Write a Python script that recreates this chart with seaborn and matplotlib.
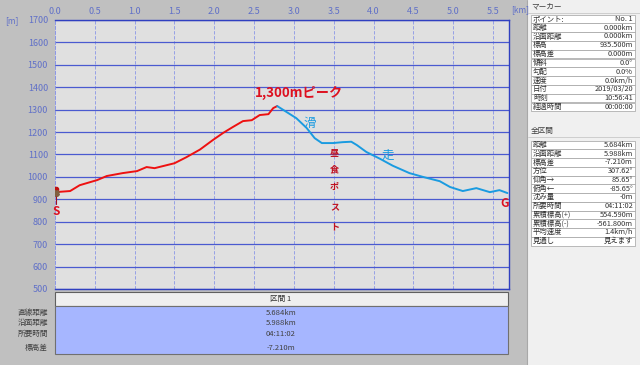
import numpy as np
import pandas as pd
import seaborn as sns
import matplotlib.pyplot as plt
from matplotlib.patches import Rectangle

# profile (km, m)
km_climb = [0.0, 0.19, 0.31, 0.53, 0.65, 0.85, 1.03, 1.15, 1.25, 1.5, 1.65, 1.82,
            1.98, 2.11, 2.23, 2.36, 2.47, 2.57, 2.68, 2.74, 2.79]
elev_climb = [932, 937, 963, 986, 1004, 1017, 1026, 1044, 1039, 1061, 1088, 1122,
              1164, 1196, 1222, 1249, 1253, 1276, 1280, 1307, 1316]
km_ski = [2.79, 2.91, 3.03, 3.16, 3.26, 3.35, 3.49, 3.61, 3.72, 3.79, 3.91, 4.08,
          4.24, 4.45, 4.62, 4.83, 4.96, 5.12, 5.29, 5.46, 5.58, 5.68]
elev_ski = [1316, 1289, 1262, 1218, 1173, 1151, 1151, 1155, 1157, 1142, 1111, 1081,
            1050, 1017, 1000, 981, 955, 937, 950, 932, 941, 928]

x_ticks = [0.0, 0.5, 1.0, 1.5, 2.0, 2.5, 3.0, 3.5, 4.0, 4.5, 5.0, 5.5]
y_ticks = [500, 600, 700, 800, 900, 1000, 1100, 1200, 1300, 1400, 1500, 1600, 1700]

section_labels = ['直線距離', '沿面距離', '所要時間', '標高差']
section_values = ['5.684km', '5.988km', '04:11:02', '-7.210m']

marker_labels = ['ポイント:', '距離', '沿面距離', '標高', '標高差', '傾斜', '勾配',
                 '速度', '日付', '時刻', '経過時間']
marker_values = ['No. 1', '0.000km', '0.000km', '935.500m', '0.000m', '0.0°', '0.0%',
                 '0.0km/h', '2019/03/20', '10:56:41', '00:00:00']
total_labels = ['距離', '沿面距離', '標高差', '方位', '仰角→', '俯角←', '沈み量',
                '所要時間', '累積標高(+)', '累積標高(-)', '平均速度', '見通し']
total_values = ['5.684km', '5.988km', '-7.210m', '307.62°', '85.65°', '-85.65°', '-0m',
                '04:11:02', '554.590m', '-561.800m', '1.4km/h', '見えます']

sns.set_style("white")
plt.rcParams['font.family'] = ['Noto Sans CJK JP', 'DejaVu Sans']

df = pd.concat([
	pd.DataFrame({"km": km_climb, "elev": elev_climb, "part": "climb"}),
	pd.DataFrame({"km": km_ski, "elev": elev_ski, "part": "ski"}),
])

W, H = 640, 365
fig = plt.figure(figsize=(6.4, 3.65), dpi=100, facecolor='#c0c0c0')

# background "window" drawn in pixel coords
bg = fig.add_axes([0, 0, 1, 1])
bg.set_xlim(0, W)
bg.set_ylim(H, 0)
bg.axis('off')

bg.text(12, 21, '[m]', fontsize=6, color='#6070c8', ha='center', va='center')
bg.text(520, 10, '[km]', fontsize=6, color='#6070c8', ha='center', va='center')

# section table under the chart
bg.add_patch(Rectangle((55, 292), 453, 14, facecolor='#efefef', edgecolor='#606060', lw=0.8))
bg.add_patch(Rectangle((55, 306), 453, 48, facecolor='#a6b6ff', edgecolor='#707070', lw=0.8))
bg.text(281, 299, '区間 1', fontsize=5.5, color='#333333', ha='center', va='center')
for lab, val, yy in zip(section_labels, section_values, [313, 323, 334, 348]):
	bg.text(48, yy, lab, fontsize=5.5, color='#404040', ha='right', va='center')
	bg.text(281, yy, val, fontsize=5.5, color='#404040', ha='center', va='center')

# right info panel
bg.add_patch(Rectangle((527, 0), 113, H, facecolor='#f0f0f0', edgecolor='none'))
bg.plot([527, 527], [0, H], color='#a8a8a8', lw=0.8)
bg.text(531, 6, 'マーカー', fontsize=5.5, color='#404040', ha='left', va='center')
bg.plot([528, 640], [12.5, 12.5], color='#c8c8c8', lw=0.6)
bg.text(531, 131, '全区間', fontsize=5.5, color='#404040', ha='left', va='center')
bg.plot([528, 640], [137, 137], color='#c8c8c8', lw=0.6)

def info_table(labels, values, top, step):
	for i, (lab, val) in enumerate(zip(labels, values)):
		y0 = top + i * step
		bg.add_patch(Rectangle((531, y0), 104, step, facecolor='white', edgecolor='#a0a0a0', lw=0.5))
		bg.text(533, y0 + step / 2, lab, fontsize=5.3, color='#303030', ha='left', va='center')
		bg.text(633, y0 + step / 2, val, fontsize=5.3, color='#303030', ha='right', va='center')

info_table(marker_labels, marker_values, 14.5, 8.8)
info_table(total_labels, total_values, 140.5, 8.75)

# elevation profile
ax = fig.add_axes([55 / W, 1 - 289 / H, 454 / W, 269 / H])
ax.set_facecolor('#e0e0e0')
sns.lineplot(data=df, x="km", y="elev", hue="part", palette=["#ee1111", "#1a9be0"],
             estimator=None, sort=False, linewidth=1.4, legend=False, ax=ax, zorder=5)

ax.set_xlim(0, 5.7)
ax.set_ylim(500, 1700)
ax.set_xticks(x_ticks)
ax.set_xticklabels(["%.1f" % t for t in x_ticks])
ax.set_yticks(y_ticks)
ax.xaxis.tick_top()
ax.tick_params(length=0, labelsize=6.5, labelcolor='#6070c8')
ax.tick_params(axis='x', pad=3)
ax.tick_params(axis='y', pad=5)
ax.set_xlabel("")
ax.set_ylabel("")
ax.grid(axis='y', color='#4a5ad0', lw=0.9, ls='-')
ax.grid(axis='x', color='#8a96e6', lw=0.6, ls=(0, (4, 2)))
for side in ['top', 'right', 'bottom']:
	ax.spines[side].set_color('#3040c0')
	ax.spines[side].set_linewidth(1.0)
ax.spines['left'].set_color('#8a96e6')
ax.spines['left'].set_linestyle((0, (4, 2)))
ax.spines['left'].set_linewidth(0.6)

# start marker
ax.plot([0.01, 0.01], [880, 930], color='#a01020', lw=0.8, zorder=6)
ax.plot(0.01, 945, marker='o', ms=3, color='#c01010', zorder=7)
ax.plot(0.01, 930, marker='X', ms=4, color='#806040', zorder=7)

red = '#dd1020'
ax.text(2.51, 1374, '1,300mピーク', fontsize=9.5, fontweight='bold', color=red,
        ha='left', va='center')
ax.text(3.2, 1240, '滑', fontsize=9, color='#1a9be0', ha='center', va='center')
ax.text(4.18, 1097, '走', fontsize=9, color='#1a9be0', ha='center', va='center')
for ch, yy in zip('昼食ポスト', [1111, 1031, 951, 862, 777]):
	ax.text(3.51, yy, ch, fontsize=6.5, fontweight='bold', color='#c01020',
	        ha='center', va='center')
ax.text(0.02, 847, 'S', fontsize=8.5, fontweight='bold', color=red, ha='center', va='center')
ax.text(5.65, 883, 'G', fontsize=8.5, fontweight='bold', color=red, ha='center', va='center')

fig.savefig("out.png", dpi=100, facecolor=fig.get_facecolor())
